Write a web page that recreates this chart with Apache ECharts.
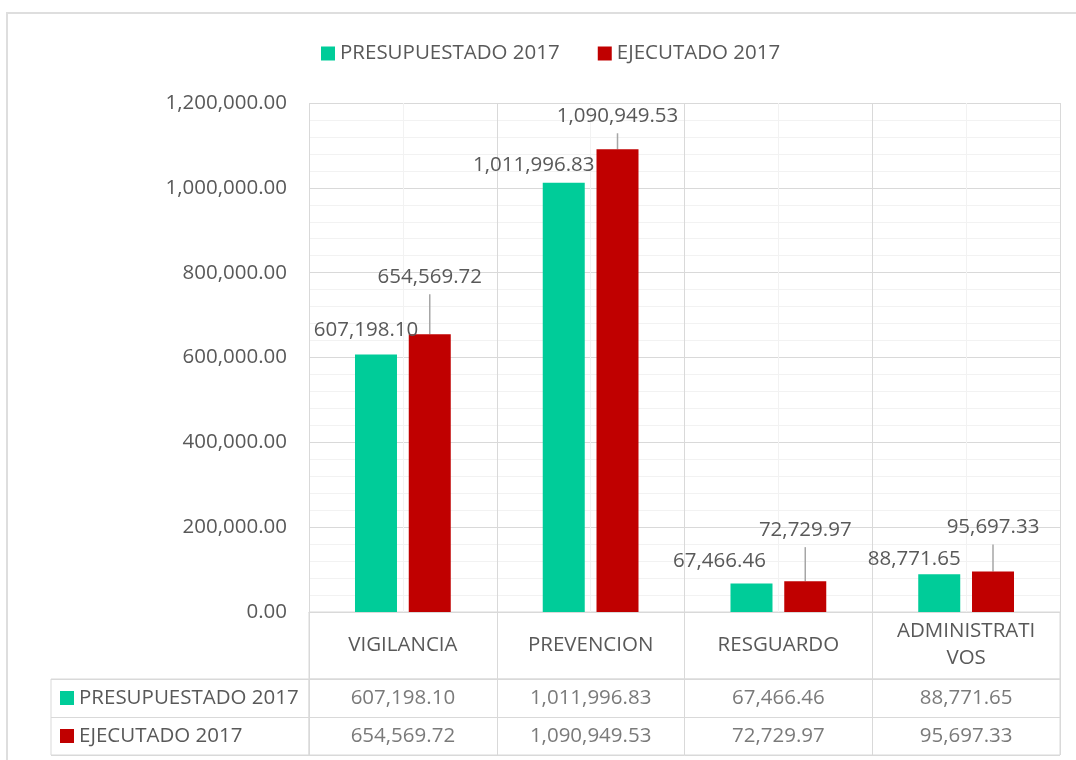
<!DOCTYPE html>
<html>
<head>
<meta charset="utf-8">
<script src="https://cdn.jsdelivr.net/npm/echarts@6/dist/echarts.min.js"></script>
<style>
  html, body { margin: 0; padding: 0; background: #fff; }
  #chart { position: absolute; left: 0; top: 0; width: 1076px; height: 760px; }
  #frame { position: absolute; left: 6px; top: 12px; width: 1200px; height: 900px; border: 2px solid #dedede; box-sizing: border-box; }
</style>
</head>
<body>
<div id="frame"></div>
<div id="chart"></div>
<script>
const categories = ['VIGILANCIA', 'PREVENCION', 'RESGUARDO', 'ADMINISTRATIVOS'];
const seriesNames = ['PRESUPUESTADO 2017', 'EJECUTADO 2017'];
const presupuestado = [607198.10, 1011996.83, 67466.46, 88771.65];
const ejecutado = [654569.72, 1090949.53, 72729.97, 95697.33];
const yMin = 0, yMax = 1200000, yStep = 200000;

// label placement tweaks (style only)
const greenLabelShift = [[-10, -12], [-30, -6], [-32, -10], [-25, -3]];
const redLabelShift = [[0, -40], [0, -16], [0, -34], [0, -27]];

const GREEN = '#00CC99', RED = '#C00000', TXT = '#595959';
const MAJOR = '#d9d9d9', MINOR = '#f2f2f2';
const FONT = '"Open Sans", sans-serif';
const FS = 20.5;
const fmt = v => Number(v).toLocaleString('en-US', { minimumFractionDigits: 2, maximumFractionDigits: 2 });

const chart = echarts.init(document.getElementById('chart'), null, { renderer: 'canvas' });
const hiddenAxisBits = { axisLabel: { show: false }, axisLine: { show: false }, axisTick: { show: false } };

const option = {
  animation: false,
  backgroundColor: 'transparent',
  textStyle: { fontFamily: FONT, color: TXT },
  legend: {
    top: 38, left: 316,
    icon: 'rect', itemWidth: 14, itemHeight: 14, itemGap: 38,
    textStyle: { fontSize: FS, color: TXT, fontFamily: FONT },
    data: seriesNames
  },
  grid: [
    { left: 309, right: 16, top: 103, height: 509 },
    { left: 309, right: 16, top: 612, height: 67, show: true, borderColor: MAJOR, borderWidth: 1, backgroundColor: 'transparent' },
    { left: 309, right: 16, top: 679, height: 76, show: true, borderColor: MAJOR, borderWidth: 1, backgroundColor: 'transparent' },
    { left: 51, width: 258, top: 679, height: 76, show: true, borderColor: MAJOR, borderWidth: 1, backgroundColor: 'transparent' }
  ],
  xAxis: [
    {
      gridIndex: 0, type: 'category', data: categories,
      axisLine: { show: true, lineStyle: { color: MAJOR, width: 1 } },
      axisTick: { show: false },
      splitLine: { show: false },
      axisLabel: {
        interval: 0, margin: 33, verticalAlign: 'middle',
        fontSize: FS, color: TXT, fontFamily: FONT, lineHeight: 27,
        width: 142, overflow: 'breakAll'
      }
    },
    {
      gridIndex: 0, type: 'value', min: 0, max: categories.length * 2, interval: 1,
      ...hiddenAxisBits,
      splitLine: { show: true, lineStyle: { color: [MAJOR, MINOR], width: 1 } }
    },
    {
      gridIndex: 1, type: 'category', data: categories, ...hiddenAxisBits,
      splitLine: { show: true, interval: 0, lineStyle: { color: MAJOR } }
    },
    {
      gridIndex: 2, type: 'category', data: categories, ...hiddenAxisBits,
      splitLine: { show: true, interval: 0, lineStyle: { color: MAJOR } }
    },
    {
      gridIndex: 3, type: 'category', data: [''], ...hiddenAxisBits,
      splitLine: { show: false }
    }
  ],
  yAxis: [
    {
      gridIndex: 0, type: 'value', min: yMin, max: yMax, interval: yStep,
      axisLine: { show: false }, axisTick: { show: false },
      axisLabel: { formatter: v => fmt(v), fontSize: FS, color: TXT, fontFamily: FONT, margin: 22 },
      splitLine: { show: true, lineStyle: { color: MAJOR, width: 1 } },
      minorTick: { show: false, splitNumber: 5 },
      minorSplitLine: { show: true, lineStyle: { color: MINOR, width: 1 } }
    },
    { gridIndex: 1, type: 'value', ...hiddenAxisBits, splitLine: { show: false } },
    {
      gridIndex: 2, type: 'category', data: seriesNames, inverse: true, ...hiddenAxisBits,
      splitLine: { show: true, interval: 0, lineStyle: { color: MAJOR } }
    },
    {
      gridIndex: 3, type: 'category', data: seriesNames, inverse: true,
      axisLine: { show: false }, axisTick: { show: false },
      splitLine: { show: true, interval: 0, lineStyle: { color: MAJOR } },
      axisLabel: {
        inside: true, margin: 9,
        formatter: (v, i) => '{s' + i + '|}{t|' + v + '}',
        rich: {
          s0: { width: 14, height: 14, backgroundColor: GREEN },
          s1: { width: 14, height: 14, backgroundColor: RED },
          t: { fontSize: FS, color: TXT, fontFamily: FONT, padding: [0, 0, 0, 5] }
        }
      }
    }
  ],
  series: [
    {
      name: seriesNames[0], type: 'bar', xAxisIndex: 0, yAxisIndex: 0,
      data: presupuestado, barWidth: 42, barGap: '28%',
      itemStyle: { color: GREEN },
      label: {
        show: true, position: 'top', distance: 0, formatter: p => fmt(p.value),
        fontSize: FS, color: TXT, fontFamily: FONT, lineHeight: 24
      },
      labelLayout: p => ({ dx: greenLabelShift[p.dataIndex][0], dy: greenLabelShift[p.dataIndex][1] }),
      labelLine: { show: false }
    },
    {
      name: seriesNames[1], type: 'bar', xAxisIndex: 0, yAxisIndex: 0,
      data: ejecutado, barWidth: 42, barGap: '28%',
      itemStyle: { color: RED },
      label: {
        show: true, position: 'top', distance: 0, formatter: p => fmt(p.value),
        fontSize: FS, color: TXT, fontFamily: FONT, lineHeight: 24, padding: [0, 0, 5, 0]
      },
      labelLayout: p => ({ dx: redLabelShift[p.dataIndex][0], dy: redLabelShift[p.dataIndex][1] }),
      labelLine: { show: true, lineStyle: { color: '#a6a6a6', width: 1.5 } }
    },
    {
      type: 'scatter', xAxisIndex: 3, yAxisIndex: 2, silent: true,
      symbolSize: 1, itemStyle: { color: 'transparent' },
      data: presupuestado.map((v, i) => [i, 0, v]).concat(ejecutado.map((v, i) => [i, 1, v])),
      label: {
        show: true, position: 'inside', formatter: p => fmt(p.value[2]),
        fontSize: FS, color: TXT, fontFamily: FONT
      }
    }
  ]
};
chart.setOption(option);
</script>
</body>
</html>
